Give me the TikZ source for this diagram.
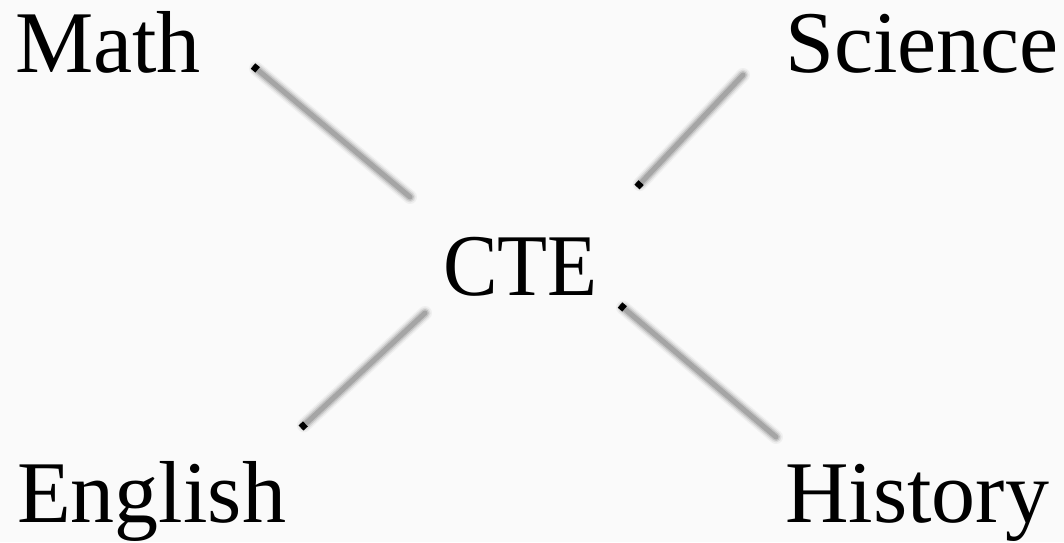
\documentclass[tikz,border=0pt]{standalone}
\usepackage{fontspec}
\setmainfont{Liberation Serif}
\usetikzlibrary{calc}
\definecolor{pagebg}{RGB}{250, 250, 250}
\definecolor{shadowgray}{RGB}{120, 120, 120}

\begin{document}
\begin{tikzpicture}[
  x=1pt, y=-1pt,
  every node/.style={font=\fontsize{88}{100}\selectfont, inner sep=0pt, anchor=base west},
  glow/.style={shadowgray, line cap=round},
  tip/.style={black, line width=7pt}
]
  \fill[pagebg] (0, 0) rectangle (1064, 542);
  \useasboundingbox (0, 0) rectangle (1064, 542);

  \node (math) at (15, 72)   {Math};
  \node (sci)  at (785, 72)  {Science};
  \node[xscale=0.93] (cte) at (443, 295) {CTE};
  \node (eng)  at (17, 522)  {English};
  \node (hist) at (785, 522) {History};

  % line ends: tip first, then faded end
  \coordinate (m1) at (253, 66);  \coordinate (m2) at (410, 197);
  \coordinate (s1) at (637, 187); \coordinate (s2) at (743, 75);
  \coordinate (e1) at (301, 428); \coordinate (e2) at (425, 313);
  \coordinate (h1) at (620, 305); \coordinate (h2) at (776, 437);

  \foreach \a/\b in {m1/m2, s1/s2, e1/e2, h1/h2} {
    \draw[glow, line width=14pt, opacity=0.08] ($(\a)!4pt!(\b)$) -- (\b);
    \draw[glow, line width=11pt, opacity=0.15] ($(\a)!4pt!(\b)$) -- (\b);
    \draw[glow, line width=8pt, opacity=0.25] ($(\a)!4pt!(\b)$) -- (\b);
    \draw[glow, line width=5pt, opacity=0.4] ($(\a)!4pt!(\b)$) -- (\b);
    \draw[tip] (\a) -- ($(\a)!6pt!(\b)$);
  }
\end{tikzpicture}
\end{document}
